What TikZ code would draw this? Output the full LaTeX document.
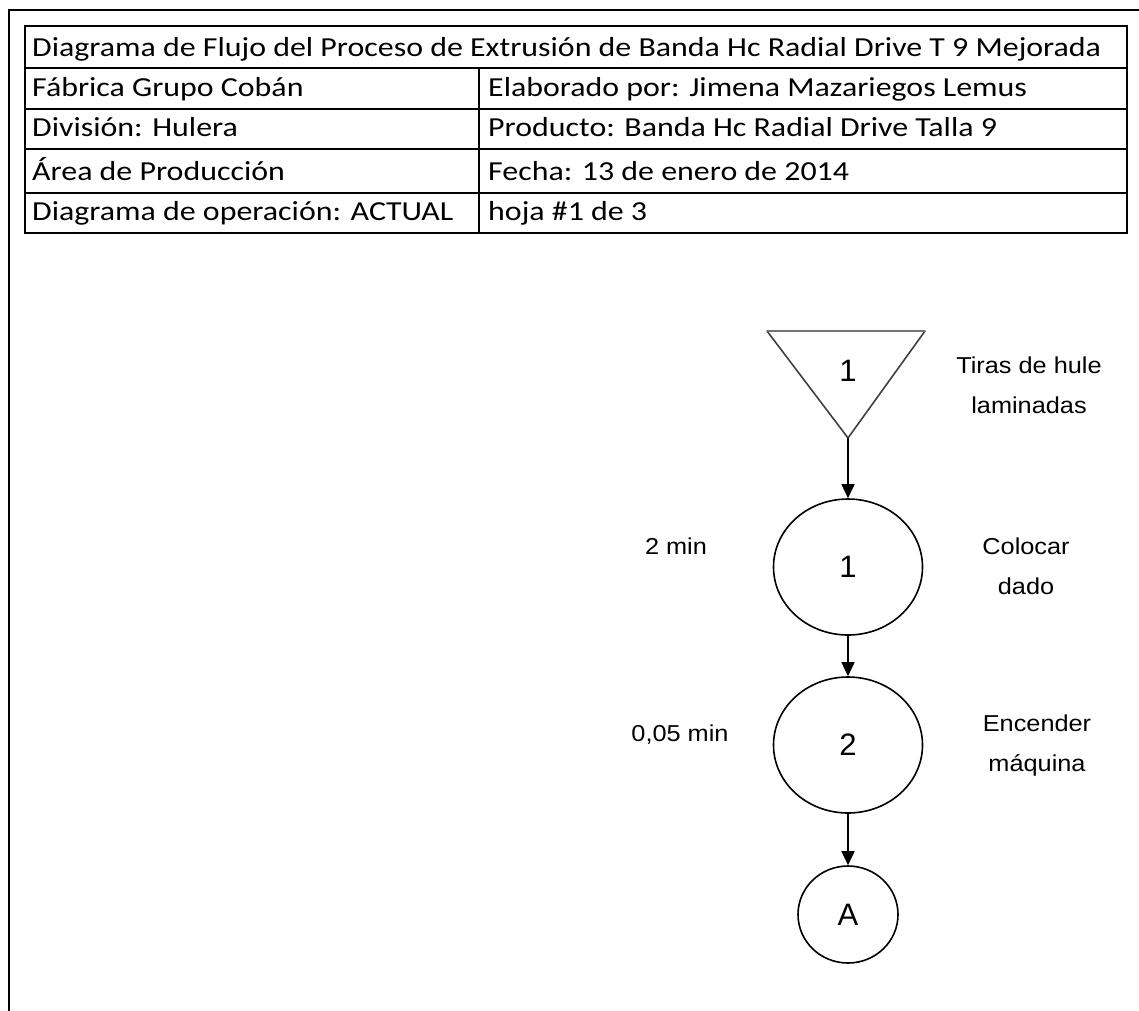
\documentclass[tikz,border=0pt]{standalone}
\usepackage{fontspec}
\setmainfont{Carlito}[FakeStretch=1.16]
\newfontfamily\flowfont{Liberation Sans}[FakeStretch=1.1]
\newfontfamily\numfont{Liberation Sans}
\usetikzlibrary{arrows.meta,shapes.geometric}
\begin{document}
\begin{tikzpicture}[x=1pt,y=-1pt,
  tline/.style={line width=2pt,black},
  cell/.style={anchor=base west,inner sep=0pt,font=\fontsize{27.5}{30}\selectfont},
  opnode/.style={draw,ellipse,line width=1.6pt,minimum width=149pt,minimum height=136pt,inner sep=0pt,font=\numfont\fontsize{31}{34}\selectfont},
  connnode/.style={draw,ellipse,line width=1.6pt,minimum width=100pt,minimum height=97pt,inner sep=0pt,font=\numfont\fontsize{31}{34}\selectfont},
  lbl/.style={align=center,inner sep=0pt,font=\flowfont\fontsize{23}{40}\selectfont},
  arr/.style={line width=1.6pt,-{Triangle[length=14pt,width=13pt]}}]
\useasboundingbox (0,0) rectangle (1139,1010);
% outer frame
\draw[line width=2.5pt] (9,1012) -- (9,10) -- (1141,10);
% header table
\draw[tline] (25,26) rectangle (1127,232.7);
\draw[tline] (25,68.3) -- (1127,68.3);
\draw[tline] (25,109.3) -- (1127,109.3);
\draw[tline] (25,149.3) -- (1127,149.3);
\draw[tline] (25,192.7) -- (1127,192.7);
\draw[tline] (479,68.3) -- (479,232.7);
\node[cell] (t0) at (32,56.5) {Diagrama de Flujo del Proceso de Extrusión de Banda Hc Radial Drive T 9 Mejorada};
\node[cell] (l1) at (32,96) {Fábrica Grupo Cobán};
\node[cell] (r1) at (488,96) {Elaborado por: Jimena Mazariegos Lemus};
\node[cell] (l2) at (32,136.7) {División: Hulera};
\node[cell] (r2) at (488,136.7) {Producto: Banda Hc Radial Drive Talla 9};
\node[cell] (l3) at (32,180) {Área de Producción};
\node[cell] (r3) at (488,180) {Fecha: 13 de enero de 2014};
\node[cell] (l4) at (32,220) {Diagrama de operación: ACTUAL};
\node[cell] (r4) at (488,220) {hoja \#1 de 3};
% storage triangle
\draw[line width=1.6pt,black!75,line join=round] (767,331) -- (925,331) -- (848,438) -- cycle;
\draw[line width=2.6pt,black!55] (767,331) -- (925,331);
\coordinate (tri) at (848,438);
\node[inner sep=0pt,font=\numfont\fontsize{31}{34}\selectfont] (tnum) at (848,371) {1};
\node[lbl] (tlbl) at (1029,385) {Tiras de hule\\laminadas};
% operations
\node[opnode] (op1) at (848,567) {1};
\node[lbl] (op1l) at (1026,566) {Colocar\\dado};
\node[lbl] (op1t) at (676,546) {2 min};
\node[opnode] (op2) at (848,745) {2};
\node[lbl] (op2l) at (1037,746) {Encender\\máquina};
\node[lbl] (op2t) at (680,735) {0,05 min};
\node[connnode] (conA) at (848,914.5) {A};
% connectors
\draw[arr] (tri) -- (op1);
\draw[arr] (op1) -- (op2);
\draw[arr] (op2) -- (conA);
\end{tikzpicture}
\end{document}
